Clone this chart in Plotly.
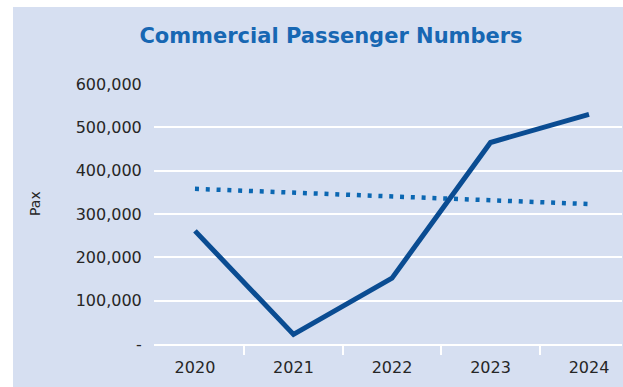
import plotly.graph_objects as go

years = ["2020", "2021", "2022", "2023", "2024"]
passengers = [261000, 22000, 152000, 465000, 530000]
trend = [358000, 349000, 340000, 332000, 323000]
y_tickvals = [0, 100000, 200000, 300000, 400000, 500000, 600000]
y_ticktext = ["-", "100,000", "200,000", "300,000", "400,000", "500,000", "600,000"]

BG = "#D6DFF1"
TEXT = "#262626"

fig = go.Figure()
fig.add_trace(go.Scatter(
    x=years, y=trend, mode="lines",
    line=dict(color="#0B67B2", width=4.5, dash="4px,6.8px"),
    showlegend=False, hoverinfo="skip",
))
fig.add_trace(go.Scatter(
    x=years, y=passengers, mode="lines",
    line=dict(color="#0A4C92", width=5),
    showlegend=False,
))

fig.update_layout(
    width=623, height=387,
    margin=dict(l=154, r=1, t=84, b=43, pad=0),
    paper_bgcolor="white",
    plot_bgcolor="rgba(0,0,0,0)",
    title=dict(
        text="<b>Commercial Passenger Numbers</b>",
        x=331 / 623, xanchor="center", xref="container",
        y=1 - 36 / 387, yanchor="middle", yref="container",
        font=dict(family="DejaVu Sans", size=21, color="#1767B3"),
    ),
    font=dict(family="DejaVu Sans", color=TEXT),
    shapes=[dict(
        type="rect", xref="paper", yref="paper",
        x0=(13 - 154) / 468, x1=(623 - 154) / 468 + 0.01,
        y0=-43 / 260 - 0.01, y1=1 + (84 - 7) / 260,
        fillcolor=BG, line=dict(width=0), layer="below",
    )],
    annotations=[dict(
        text="Pax", x=(35 - 154) / 468, y=(344 - 204) / 260,
        xref="paper", yref="paper", xanchor="center", yanchor="middle",
        showarrow=False, textangle=-90,
        font=dict(family="DejaVu Sans", size=14, color=TEXT),
    )],
)

fig.update_xaxes(
    type="category",
    range=[-0.416, 4.335],
    showgrid=False, zeroline=False,
    showline=True, linecolor="white", linewidth=2,
    tickson="boundaries", ticks="outside", ticklen=9, tickwidth=2, tickcolor="white",
    ticklabelstandoff=8,
    tickfont=dict(family="DejaVu Sans", size=16, color=TEXT),
    fixedrange=True,
)
fig.update_yaxes(
    range=[0, 600000],
    tickvals=y_tickvals, ticktext=y_ticktext,
    showgrid=True, gridcolor="white", gridwidth=2,
    zeroline=False, showline=False,
    ticks="outside", ticklen=8, tickcolor="rgba(0,0,0,0)",
    tickfont=dict(family="DejaVu Sans", size=16, color=TEXT),
    fixedrange=True,
)

fig.write_html("out.html")
